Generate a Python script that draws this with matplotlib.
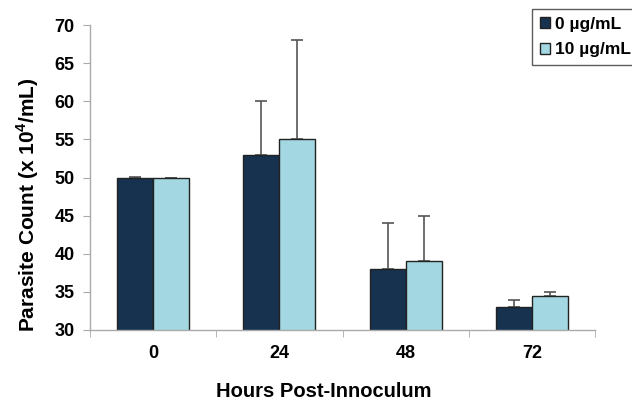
import matplotlib
matplotlib.use("Agg")
import matplotlib.pyplot as plt
import numpy as np

hours = ["0", "24", "48", "72"]
series_names = ["0 µg/mL", "10 µg/mL"]
vals_0 = [50, 53, 38, 33]
vals_10 = [50, 55, 39, 34.5]
err_0 = [0.05, 7, 6, 1]
err_10 = [0, 13, 6, 0.5]

plt.rcParams['font.family'] = ['Liberation Sans', 'DejaVu Sans']
plt.rcParams['font.weight'] = 'bold'
plt.rcParams['mathtext.fontset'] = 'custom'
plt.rcParams['mathtext.bf'] = 'Liberation Sans:bold'
plt.rcParams['mathtext.rm'] = 'Liberation Sans:bold'

fig = plt.figure(figsize=(6.32, 4.07), dpi=100)
ax = fig.add_axes([90/632, 1-330/407, (595-90)/632, (330-25)/407])

x = np.arange(len(hours))
w = 0.285
dark = "#17324f"
light = "#a3d8e2"
ecol = "#555555"
ax.bar(x - w/2, vals_0, w, color=dark, edgecolor="#222222", linewidth=1,
       label=series_names[0], zorder=2)
ax.bar(x + w/2, vals_10, w, color=light, edgecolor="#222222", linewidth=1,
       label=series_names[1], zorder=2)
ax.errorbar(x - w/2, vals_0, yerr=[np.zeros(4), err_0], fmt="none", ecolor=ecol,
            elinewidth=1.2, capsize=4, capthick=1.2, zorder=1)
ax.errorbar(x + w/2, vals_10, yerr=[np.zeros(4), err_10], fmt="none", ecolor=ecol,
            elinewidth=1.2, capsize=4, capthick=1.2, zorder=1)

ax.set_ylim(30, 70)
ax.set_xlim(-0.5, 3.5)
ax.set_yticks(np.arange(30, 71, 5))
ax.set_xticks(x)
ax.set_xticklabels(hours)
ax.set_xticks(np.arange(-0.5, 3.6, 1), minor=True)
ax.tick_params(axis='x', which='major', length=0, pad=11, labelsize=13)
ax.tick_params(axis='x', which='minor', length=5, color="#aaaaaa", direction='out')
ax.tick_params(axis='y', length=5, color="#aaaaaa", direction='out', labelsize=13, pad=6)
for lab in ax.get_xticklabels() + ax.get_yticklabels():
    lab.set_fontweight('bold')
for s in ["top", "right"]:
    ax.spines[s].set_visible(False)
for s in ["left", "bottom"]:
    ax.spines[s].set_color("#aaaaaa")
    ax.spines[s].set_linewidth(1)

ax.set_ylabel("Parasite Count (x 10$^{4}$/mL)", fontsize=15, fontweight='bold', labelpad=9)
ax.yaxis.set_label_coords(-0.097, 0.41)
ax.set_xlabel("Hours Post-Innoculum", fontsize=14.5, fontweight='bold')
ax.xaxis.set_label_coords(0.463, -0.17)

leg = fig.legend(loc="upper left", bbox_to_anchor=(532/632, 1-9/407), frameon=True,
                 fancybox=False, edgecolor="#333333", fontsize=12.5, handlelength=0.6,
                 handleheight=0.6, handletextpad=0.3, borderpad=0.45, labelspacing=0.6,
                 borderaxespad=0)
for t in leg.get_texts():
    t.set_fontweight('bold')
leg.get_frame().set_linewidth(1)

fig.savefig("out.png", dpi=100)
